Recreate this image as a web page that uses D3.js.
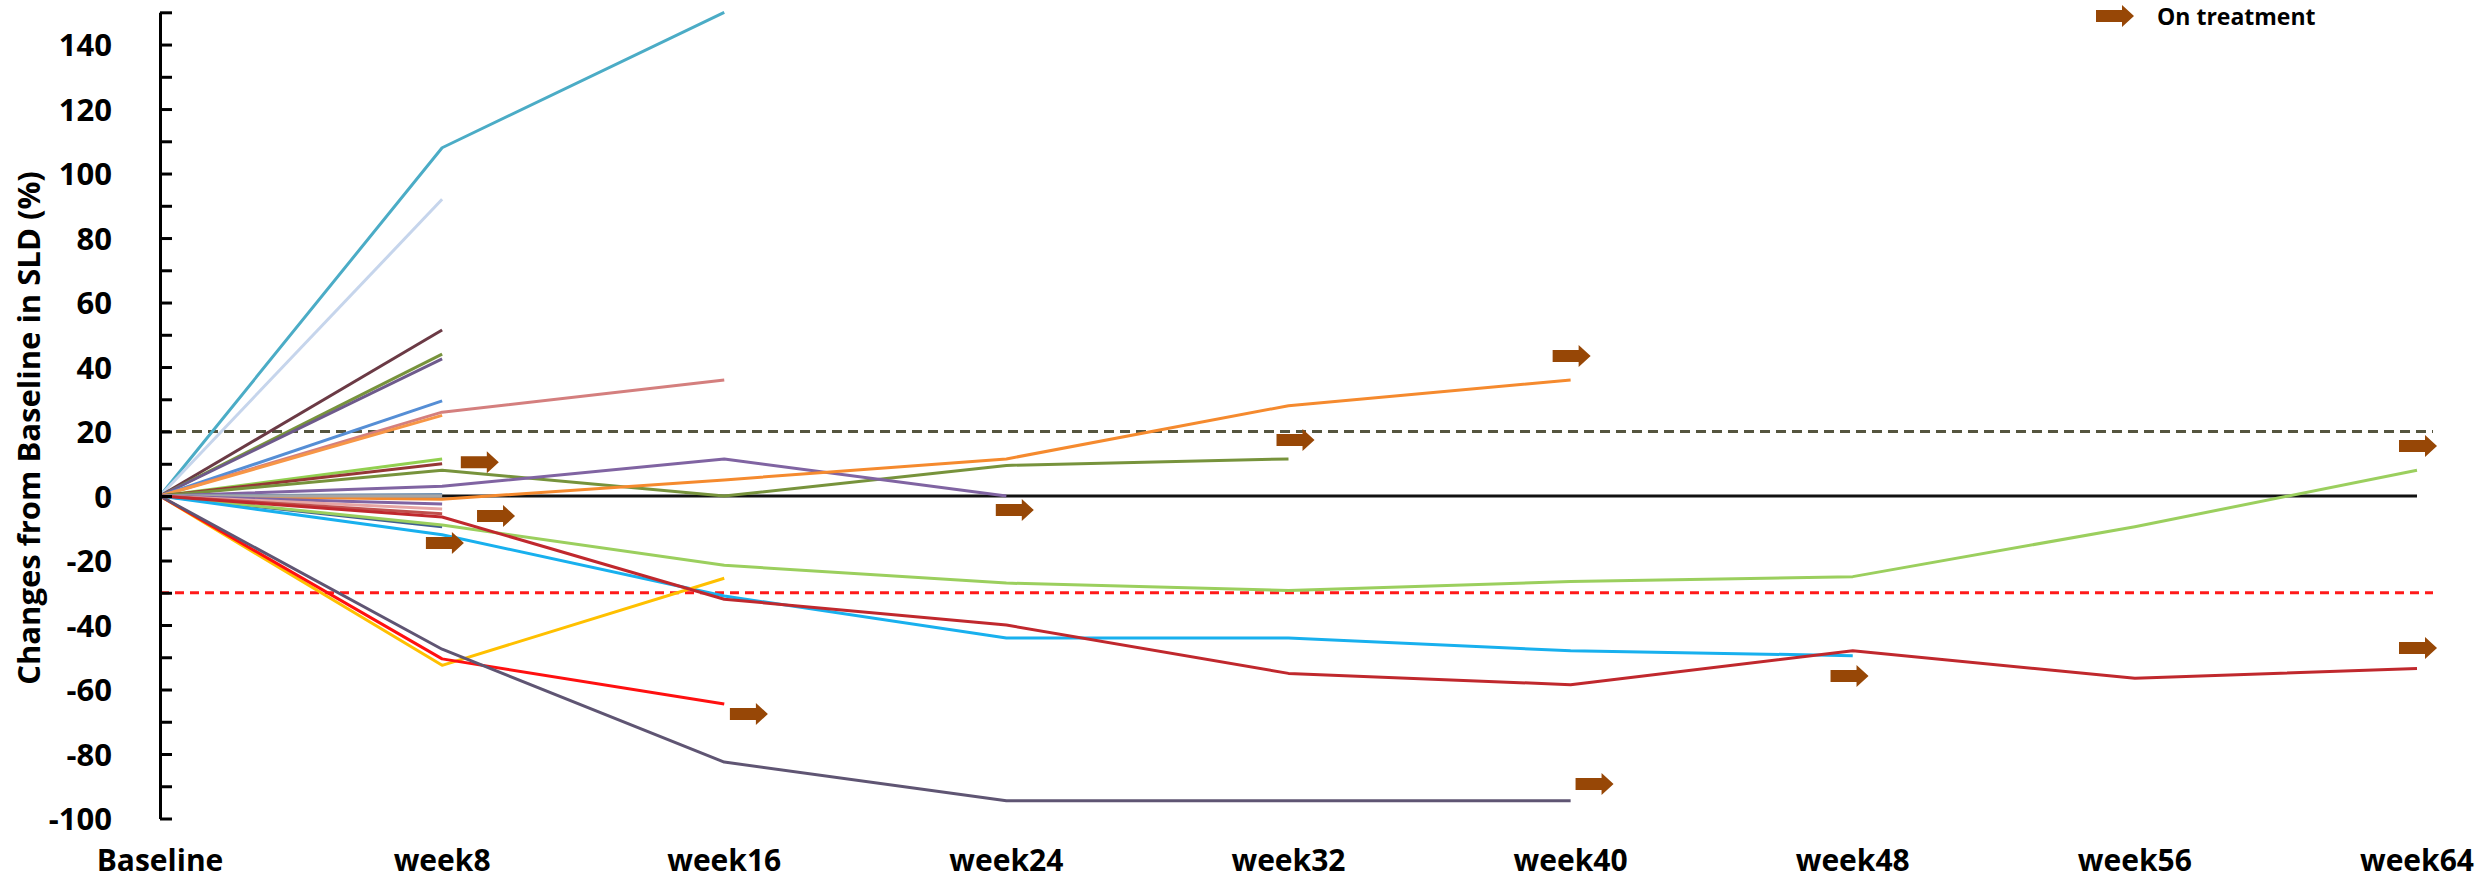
<!DOCTYPE html>
<html>
<head>
<meta charset="utf-8">
<script src="https://cdn.jsdelivr.net/npm/d3@7"></script>
<style>
  body { margin: 0; background: #fff; }
  svg { display: block; }
  text { font-family: 'Open Sans', sans-serif; font-weight: 700; fill: #000; }
</style>
</head>
<body>
<svg id="chart" width="2489" height="883"></svg>
<script>
// Visit labels and the week number each one stands for
const categories = ["Baseline", "week8", "week16", "week24", "week32", "week40", "week48", "week56", "week64"];
const visitWeeks = [0, 8, 16, 24, 32, 40, 48, 56, 64];

// Percent change of the sum of longest diameters, one array per patient (null = no scan)
const pt01 = [0, 108, 150];
const pt02 = [0, 92];
const pt03 = [0, 51.5];
const pt04 = [0, 44];
const pt05 = [0, 42.5];
const pt06 = [0, 29.5];
const pt07 = [0, 26, 36];
const pt08 = [0, 25];
const pt09 = [0, 11.5];
const pt10 = [0, 10];
const pt11 = [0, 8, 0, 9.5, 11.5];
const pt12 = [0, 3, 11.5, 0];
const pt13 = [0, -1, 5, 11.5, 28, 36];
const pt14 = [0, 0.5];
const pt15 = [0, 0];
const pt16 = [0, -2.5];
const pt17 = [0, -4];
const pt18 = [0, -5.5];
const pt19 = [0, -6.5, -32, -40, -55, -58.5, -48, -56.5, -53.5];
const pt20 = [0, -9.5];
const pt21 = [0, -9, -21.5, -27, -29.3, -26.5, -25, -9.5, 8];
const pt22 = [0, -12, -31, -44, -44, -48, -49.5];
const pt23 = [0, -52.5, -25.5];
const pt24 = [0, -50.5, -64.5];
const pt25 = [0, -47.5, -82.5, -94.5, -94.5, -94.5];

const patients = [pt01, pt02, pt03, pt04, pt05, pt06, pt07, pt08, pt09, pt10, pt11, pt12, pt13,
                  pt14, pt15, pt16, pt17, pt18, pt20, pt21, pt22, pt23, pt24, pt25, pt19];
const patientColors = ["#4BACC6", "#C6D5EC", "#6B3A45", "#77933C", "#6E5A8C", "#558ED5", "#D47F7E",
                       "#F79646", "#92D050", "#953735", "#77933C", "#8064A2", "#F58A2E",
                       "#6F8FAF", "#A6A6A6", "#8064A2", "#E6A5A4", "#C0504D", "#3F5F8F", "#9BCF5E",
                       "#18B0EE", "#FFC000", "#FF1010", "#5F5573", "#C0282D"];

// "On treatment" markers: week position and value where each arrow sits
const arrowWeeks  = [8.53, 8.99, 7.54, 16.16, 23.7, 31.66, 39.49, 40.14, 47.37, 63.49, 63.49];
const arrowValues = [10.5, -6.2, -14.6, -67.6, -4.3, 17.4, 43.4, -89.3, -55.8, 15.5, -47.1];

// Response thresholds: progression (+20%) and partial response (-30%)
const progressionCut = 20;
const responseCut = -30;

const yTicks = d3.range(-100, 151, 10);

const svg = d3.select("#chart");
const x = d3.scaleLinear().domain([0, 64]).range([160, 2417]);
const y = d3.scaleLinear().domain([-100, 150]).range([818.5, 12.3]);

// threshold lines
svg.append("line")
  .attr("x1", x(0)).attr("x2", x(64) + 16)
  .attr("y1", y(progressionCut)).attr("y2", y(progressionCut))
  .attr("stroke", "#55553F").attr("stroke-width", 3)
  .attr("stroke-dasharray", "10,6");
svg.append("line")
  .attr("x1", x(0)).attr("x2", x(64) + 16)
  .attr("y1", y(responseCut)).attr("y2", y(responseCut))
  .attr("stroke", "#FF1A1A").attr("stroke-width", 3)
  .attr("stroke-dasharray", "9,6");

// zero line
svg.append("line")
  .attr("x1", x(0)).attr("x2", x(64))
  .attr("y1", y(0)).attr("y2", y(0))
  .attr("stroke", "#111").attr("stroke-width", 3);

// patient trajectories
const line = d3.line()
  .defined(d => d.v != null)
  .x(d => x(d.w))
  .y(d => y(d.v));

svg.append("g").selectAll("path")
  .data(patients)
  .join("path")
  .attr("fill", "none")
  .attr("stroke", (d, i) => patientColors[i])
  .attr("stroke-width", 3)
  .attr("stroke-linejoin", "round")
  .attr("d", vals => line(vals.map((v, i) => ({ w: visitWeeks[i], v }))));

// block arrow shape anchored at its left edge / vertical center
function arrowPath(left, cy) {
  const bodyW = 26, headW = 12, bodyH = 12, headH = 22;
  return `M${left},${cy - bodyH / 2}H${left + bodyW}V${cy - headH / 2}` +
         `L${left + bodyW + headW},${cy}L${left + bodyW},${cy + headH / 2}` +
         `V${cy + bodyH / 2}H${left}Z`;
}

svg.append("g").selectAll("path")
  .data(arrowWeeks.map((w, i) => ({ w, v: arrowValues[i] })))
  .join("path")
  .attr("fill", "#974706")
  .attr("d", d => arrowPath(x(d.w), y(d.v)));

// y axis with ticks pointing into the plot
const yAxis = d3.axisLeft(y)
  .tickValues(yTicks)
  .tickSizeInner(-12)
  .tickSizeOuter(0)
  .tickPadding(48)
  .tickFormat(d => d % 20 === 0 ? String(d) : "");

const gy = svg.append("g")
  .attr("transform", `translate(${x(0)},0)`)
  .call(yAxis);
gy.select(".domain").attr("stroke", "#000").attr("stroke-width", 3);
gy.selectAll(".tick line").attr("stroke", "#000").attr("stroke-width", 3);
gy.selectAll(".tick text")
  .attr("font-family", "'Open Sans', sans-serif")
  .attr("font-weight", 700)
  .attr("font-size", 31)
  .attr("dy", "0.36em")
  .attr("fill", "#000");

// visit labels along the bottom
svg.append("g").selectAll("text")
  .data(categories)
  .join("text")
  .attr("x", (d, i) => x(visitWeeks[i]))
  .attr("y", 871)
  .attr("text-anchor", "middle")
  .attr("font-size", 30)
  .text(d => d);

// y axis title
svg.append("text")
  .attr("transform", "translate(40,428) rotate(-90)")
  .attr("text-anchor", "middle")
  .attr("font-size", 31)
  .text("Changes from Baseline in SLD (%)");

// legend
svg.append("path")
  .attr("fill", "#974706")
  .attr("d", arrowPath(2096, 16));
svg.append("text")
  .attr("x", 2157)
  .attr("y", 25)
  .attr("font-size", 23)
  .text("On treatment");
</script>
</body>
</html>
